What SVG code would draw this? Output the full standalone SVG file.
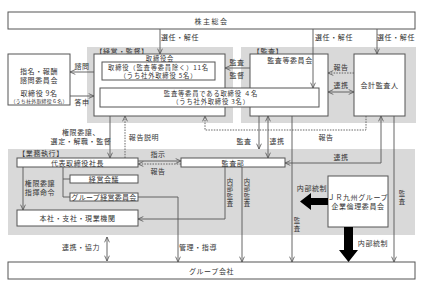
<svg xmlns="http://www.w3.org/2000/svg" width="423" height="288" viewBox="0 0 423 288">
<style>
text{font-family:"Noto Sans CJK JP","Noto Sans",sans-serif;font-size:7px;fill:#333;text-anchor:middle;dominant-baseline:central;letter-spacing:0.6px}
.sm{font-size:5px;letter-spacing:0.2px}
.m{font-size:6.3px;letter-spacing:0.8px}
.v{font-size:6.3px;letter-spacing:0}
.area{fill:#d9d9d9}
.box{fill:#fff;stroke:#555;stroke-width:1}
.ln{fill:none;stroke:#555;stroke-width:0.9}
.dot{fill:none;stroke:#555;stroke-width:0.9;stroke-dasharray:1.5,1.2}
.thick{fill:#000}
</style>
<defs>
<marker id="ah" viewBox="0 0 6 6" refX="5.6" refY="3" markerWidth="6" markerHeight="6" orient="auto-start-reverse" markerUnits="userSpaceOnUse">
<path d="M0.3,0.6 L5.6,3 L0.3,5.4" fill="none" stroke="#555" stroke-width="0.8"/>
</marker>
</defs>
<rect width="423" height="288" fill="#fff"/>
<g id="areas">
<rect class="area" x="87" y="47" width="146" height="76"/>
<rect class="area" x="241" y="47" width="175" height="76"/>
<rect class="area" x="8" y="149" width="407" height="86"/>
<text x="122" y="51">【経営・監督】</text>
<text x="268" y="51">【監査】</text>
<text x="41" y="153">【業務執行】</text>
</g>
<g id="kabunushi">
<rect class="box" x="8" y="12" width="407" height="17"/>
<text x="211.5" y="20.5" style="letter-spacing:1.5px">株主総会</text>
</g>
<g id="shimei">
<rect class="box" x="8" y="54" width="62" height="51"/>
<text x="39" y="71">指名・報酬</text>
<text x="39" y="79.5">諮問委員会</text>
<text x="39" y="93">取締役 9名</text>
<text class="sm" x="39" y="100.5">（うち社外取締役６名）</text>
</g>
<g id="torishimariyakukai">
<rect class="box" x="94" y="54" width="131" height="62"/>
<text class="m" x="160" y="58.3">取締役会</text>
</g>
<g id="torishimariyaku">
<rect class="box" x="102" y="62" width="113" height="18"/>
<text class="m" x="158.5" y="67">取締役（監査等委員除く）11名</text>
<text class="m" x="158.5" y="75.3">（うち社外取締役 5名）</text>
</g>
<g id="kansatou_iinkai">
<rect class="box" x="250" y="54" width="78" height="62"/>
<text x="290" y="59.5">監査等委員会</text>
</g>
<g id="kansatou_torishimariyaku">
<rect class="box" x="100" y="88" width="219" height="19"/>
<text class="m" x="211" y="93.3">監査等委員である取締役 ４名</text>
<text class="m" x="211" y="101.7">（うち社外取締役 3名）</text>
</g>
<g id="kaikei">
<rect class="box" x="354" y="54" width="51" height="62"/>
<text x="379.5" y="85">会計監査人</text>
</g>
<g id="shachou">
<rect class="box" x="17" y="158" width="121" height="9"/>
<text x="77.5" y="162.5">代表取締役社長</text>
</g>
<g id="keiei_kaigi">
<rect class="box" x="70" y="175" width="68" height="8"/>
<text x="104" y="179">経営会議</text>
</g>
<g id="group_keiei">
<rect class="box" x="70" y="193" width="68" height="8"/>
<text x="104" y="197" style="letter-spacing:0.3px">グループ経営委員会</text>
</g>
<g id="honsha">
<rect class="box" x="17" y="210" width="121" height="16"/>
<text x="77.5" y="218">本社・支社・現業機関</text>
</g>
<g id="kansabu">
<rect class="box" x="181" y="158" width="104" height="9"/>
<text x="233" y="162.5">監査部</text>
</g>
<g id="rinri">
<rect class="box" x="328" y="176" width="60" height="51"/>
<text x="358" y="197">ＪＲ九州グループ</text>
<text x="358" y="205.5">企業倫理委員会</text>
</g>
<g id="group_kaisha">
<rect class="box" x="8" y="262" width="407" height="17"/>
<text x="211.5" y="270.5">グループ会社</text>
</g>
<g id="connectors">
<path class="ln" d="M160,29 V54" marker-end="url(#ah)"/>
<path class="ln" d="M313,29 V88" marker-end="url(#ah)"/>
<path class="ln" d="M377,29 V54" marker-end="url(#ah)"/>
<path class="ln" d="M94,72 H70" marker-end="url(#ah)"/>
<path class="ln" d="M70,96 H94" marker-end="url(#ah)"/>
<path class="ln" d="M250,68 H225" marker-end="url(#ah)"/>
<path class="dot" d="M354,73 H328" marker-end="url(#ah)"/>
<path class="ln" d="M328,92 H354" marker-start="url(#ah)" marker-end="url(#ah)"/>
<path class="ln" d="M110,116 V158" marker-end="url(#ah)"/>
<path class="dot" d="M125,158 V116" marker-end="url(#ah)"/>
<path class="ln" d="M138,161 H181" marker-end="url(#ah)"/>
<path class="dot" d="M181,164 H138" marker-end="url(#ah)"/>
<path class="ln" d="M259,116 V149" marker-end="url(#ah)"/>
<path class="ln" d="M268,116 V158" marker-start="url(#ah)" marker-end="url(#ah)"/>
<path class="dot" d="M366,116 V130 H205 V116" marker-end="url(#ah)"/>
<path class="ln" d="M285,163 H381 V116" marker-start="url(#ah)" marker-end="url(#ah)"/>
<path class="ln" d="M292,116 V262" marker-end="url(#ah)"/>
<path class="ln" d="M394,116 V262" marker-end="url(#ah)"/>
<path class="ln" d="M225,167 V219 H138" marker-end="url(#ah)"/>
<path class="ln" d="M242,167 V262" marker-end="url(#ah)"/>
<path class="ln" d="M23,167 V210" marker-end="url(#ah)"/>
<path class="ln" d="M63,167 V197 H70 M63,179 H70"/>
<path class="ln" d="M138,197 H178 V262" marker-end="url(#ah)"/>
<path class="ln" d="M107,237 V261" marker-start="url(#ah)" marker-end="url(#ah)"/>
<polygon class="thick" points="328,198 311,198 311,193 300,201.5 311,210 311,205 328,205"/>
<polygon class="thick" points="344,227 353,227 353,250 358,250 348.5,262 339,250 344,250"/>
</g>
<g id="labels">
<text x="180" y="37">選任・解任</text>
<text x="334" y="37">選任・解任</text>
<text x="396" y="37">選任・解任</text>
<text x="82" y="66">諮問</text>
<text x="82" y="102">答申</text>
<text x="237" y="62">監査</text>
<text x="237" y="75">監督</text>
<text x="341" y="67">報告</text>
<text x="341" y="85">連携</text>
<text x="81" y="132">権限委譲、</text>
<text x="81" y="140.5">選定・解職・監督</text>
<text x="144" y="137">報告説明</text>
<text x="158" y="154">指示</text>
<text x="158" y="171">報告</text>
<text x="244" y="141">監査</text>
<text x="277" y="141">連携</text>
<text x="326" y="137">報告</text>
<text x="341" y="157">連携</text>
<text x="40" y="183">権限委譲</text>
<text x="40" y="192">指揮命令</text>
<text x="312" y="188">内部統制</text>
<text x="373" y="243">内部統制</text>
<text x="198" y="247">管理・指導</text>
<text x="81" y="247">連携・協力</text>
<text class="v" x="230" y="181">内</text><text class="v" x="230" y="188.5">部</text><text class="v" x="230" y="196">監</text><text class="v" x="230" y="203.5">査</text>
<text class="v" x="247" y="181">内</text><text class="v" x="247" y="188.5">部</text><text class="v" x="247" y="196">監</text><text class="v" x="247" y="203.5">査</text>
<text class="v" x="297" y="220">監</text><text class="v" x="297" y="228">査</text>
<text class="v" x="402" y="193">監</text><text class="v" x="402" y="201">査</text>
</g>
</svg>
